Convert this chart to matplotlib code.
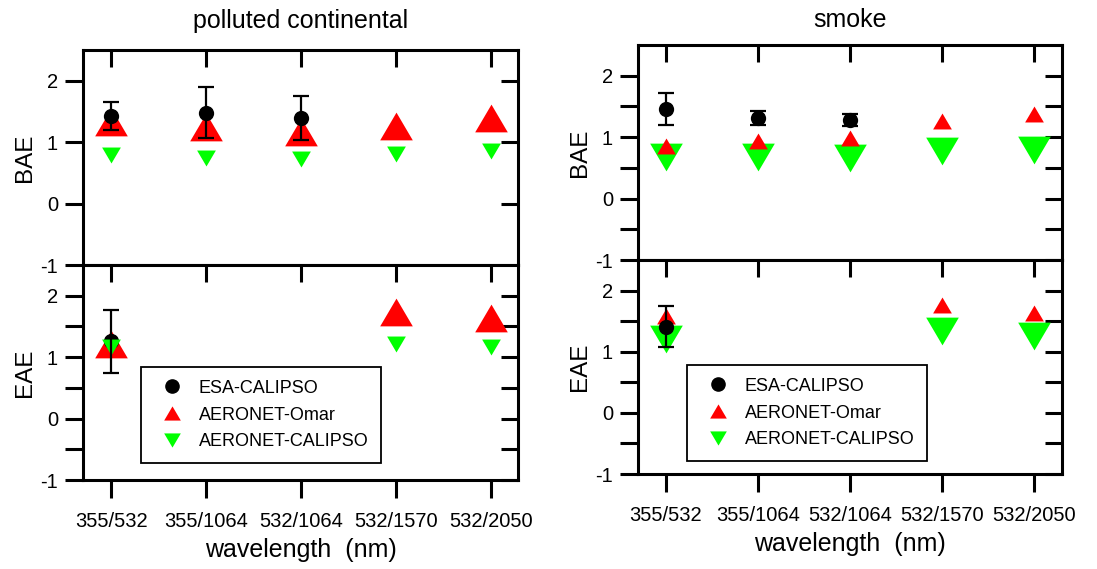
import numpy as np
import matplotlib
matplotlib.use("Agg")
import matplotlib.pyplot as plt
from matplotlib.lines import Line2D

plt.rcParams['font.family'] = ['Liberation Sans', 'DejaVu Sans']
plt.rcParams['axes.unicode_minus'] = False

categories = ['355/532', '355/1064', '532/1064', '532/1570', '532/2050']
nan = np.nan

# polluted continental
pc_bae_esa = [1.42, 1.48, 1.39]
pc_bae_esa_err = [0.23, 0.42, 0.36]
pc_bae_omar = [1.32, 1.24, 1.17, 1.27, 1.40]
pc_bae_acal = [0.79, 0.75, 0.73, 0.81, 0.85]
pc_eae_esa = [1.26]
pc_eae_esa_err = [0.51]
pc_eae_omar = [1.22, nan, nan, 1.74, 1.63]
pc_eae_acal = [1.16, nan, nan, 1.22, 1.17]

# smoke
sm_bae_esa = [1.46, 1.31, 1.28]
sm_bae_esa_err = [0.26, 0.11, 0.10]
sm_bae_omar = [0.86, 0.94, 0.99, 1.26, 1.38]
sm_bae_acal = [0.67, 0.67, 0.66, 0.77, 0.79]
sm_eae_esa = [1.41]
sm_eae_esa_err = [0.33]
sm_eae_omar = [1.58, nan, nan, 1.76, 1.63]
sm_eae_acal = [1.20, nan, nan, 1.34, 1.26]

UP = [(-1, -0.85), (1, -0.85), (0, 0.85), (-1, -0.85)]
DOWN = [(-1, 0.85), (1, 0.85), (0, -0.85), (-1, 0.85)]
RED = '#ff0000'
GREEN = '#00ff00'
BIG = 23.5
SMALL = 13.5
CIRC = 11

fig = plt.figure(figsize=(10.97, 5.69), dpi=100)
W, H = 1097, 569

def fax(x0, x1, y0, y1):
    return fig.add_axes([x0 / W, 1 - y1 / H, (x1 - x0) / W, (y1 - y0) / H])

axes = {
    'pc_bae': fax(83, 518, 50, 265),
    'pc_eae': fax(83, 518, 265, 480),
    'sm_bae': fax(638, 1062, 45, 260),
    'sm_eae': fax(638, 1062, 260, 474),
}
xs = np.arange(len(categories))

def style(ax, xlim, minor, bottom_labels):
    ax.set_xlim(*xlim)
    ax.set_ylim(-1, 2.5)
    for s in ax.spines.values():
        s.set_linewidth(2.2)
    ax.set_yticks([-1, 0, 1, 2])
    ax2 = ax.secondary_yaxis('right')
    if minor:
        ax.set_yticks([-0.5, 0.5, 1.5], minor=True)
        ax.tick_params(axis='y', which='minor', length=13, width=2.2,
                       direction='out', right=False)
        ax2.set_yticks([-1, -0.5, 0, 0.5, 1, 1.5, 2])
    else:
        ax2.set_yticks([0, 1, 2])
    ax2.tick_params(length=12, width=2.2, direction='in', labelright=False)
    ax2.spines['right'].set_visible(False)
    ax.tick_params(axis='y', which='major', length=13, width=2.2,
                   direction='out', labelsize=14.5, pad=5)
    ax.set_xticks(xs)
    if bottom_labels:
        ax.set_xticklabels(categories)
        ax.tick_params(axis='x', length=13, width=2.2, direction='out',
                       labelsize=14.5, pad=10)
    else:
        ax.tick_params(axis='x', length=0, labelbottom=False)
    axt = ax.secondary_xaxis('top')
    axt.set_xticks(xs)
    axt.tick_params(length=12, width=2.2, direction='in', labeltop=False)
    axt.spines['top'].set_visible(False)

def tri(ax, vals, up, size, color, z):
    ax.plot(xs, vals, linestyle='none', marker=UP if up else DOWN,
            markersize=size, color=color, markeredgewidth=0, zorder=z)

def esa(ax, vals, err, zc, ze):
    x = xs[:len(vals)]
    ax.plot(x, vals, 'o', color='k', markersize=CIRC, markeredgewidth=0, zorder=zc)
    ax.errorbar(x, vals, yerr=err, fmt='none', ecolor='k', elinewidth=1.6,
                capsize=6, capthick=1.6, zorder=ze)

# polluted continental BAE
ax = axes['pc_bae']
style(ax, (-0.3, 4.28), False, False)
tri(ax, pc_bae_acal, False, SMALL, GREEN, 3)
tri(ax, pc_bae_omar, True, BIG, RED, 4)
esa(ax, pc_bae_esa, pc_bae_esa_err, 5, 6)
ax.set_ylabel('BAE', fontsize=17.5, labelpad=3)
ax.set_title('polluted continental', fontsize=18, pad=16)

# polluted continental EAE
ax = axes['pc_eae']
style(ax, (-0.3, 4.28), True, True)
tri(ax, pc_eae_omar, True, BIG, RED, 3)
esa(ax, pc_eae_esa, pc_eae_esa_err, 4, 6)
tri(ax, pc_eae_acal, False, SMALL, GREEN, 5)
ax.set_ylabel('EAE', fontsize=17.5, labelpad=3)
ax.set_xlabel('wavelength  (nm)', fontsize=18, labelpad=5)

# smoke BAE
ax = axes['sm_bae']
style(ax, (-0.3, 4.3), True, False)
tri(ax, sm_bae_acal, False, BIG, GREEN, 3)
tri(ax, sm_bae_omar, True, SMALL, RED, 4)
esa(ax, sm_bae_esa, sm_bae_esa_err, 5, 6)
ax.set_ylabel('BAE', fontsize=17.5, labelpad=3)
ax.set_title('smoke', fontsize=18, pad=13)

# smoke EAE
ax = axes['sm_eae']
style(ax, (-0.3, 4.3), True, True)
tri(ax, sm_eae_omar, True, SMALL, RED, 3)
tri(ax, sm_eae_acal, False, BIG, GREEN, 4)
esa(ax, sm_eae_esa, sm_eae_esa_err, 5, 6)
ax.set_ylabel('EAE', fontsize=17.5, labelpad=3)
ax.set_xlabel('wavelength  (nm)', fontsize=18, labelpad=5)

handles = [
    Line2D([], [], linestyle='none', marker='o', color='k', markersize=9.5),
    Line2D([], [], linestyle='none', marker=UP, color=RED, markersize=12, markeredgewidth=0),
    Line2D([], [], linestyle='none', marker=DOWN, color=GREEN, markersize=12, markeredgewidth=0),
]
labels = ['ESA-CALIPSO', 'AERONET-Omar', 'AERONET-CALIPSO']
for key, (x0, y0) in (('pc_eae', (141, 367)), ('sm_eae', (687, 365))):
    leg = axes[key].legend(handles, labels, loc='upper left',
                           bbox_to_anchor=(x0 / W, 1 - y0 / H),
                           bbox_transform=fig.transFigure,
                           fontsize=13, frameon=True, fancybox=False,
                           edgecolor='k', framealpha=1, borderpad=0.7,
                           labelspacing=0.55, handletextpad=0.5,
                           handlelength=2.0, borderaxespad=0)
    leg.get_frame().set_linewidth(1.3)
    leg.set_zorder(10)

fig.savefig('out.png', dpi=100)
